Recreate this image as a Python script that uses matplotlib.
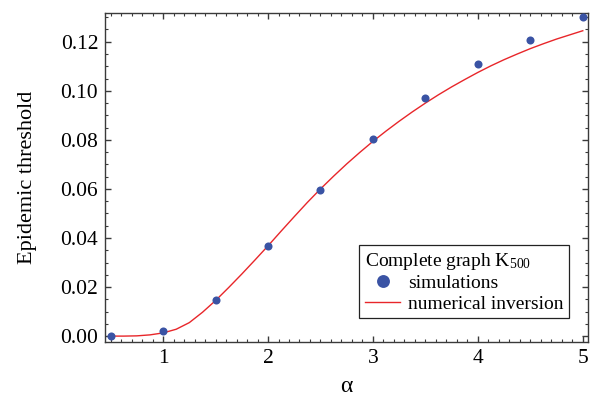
import matplotlib
matplotlib.use('Agg')

import matplotlib.pyplot as plt
from matplotlib.ticker import MultipleLocator

# simulation points
alpha_sim = [0.5, 1.0, 1.5, 2.0, 2.5, 3.0, 3.5, 4.0, 4.5, 5.0]
thr_sim = [0.0000, 0.0020, 0.0148, 0.0368, 0.0597, 0.0802, 0.0971, 0.1109, 0.1206, 0.1300]

# numerical inversion curve
alpha_num = [0.5, 0.625, 0.75, 0.875, 1.0, 1.125, 1.25, 1.375, 1.5, 1.625, 1.75, 1.875,
             2.0, 2.125, 2.25, 2.375, 2.5, 2.625, 2.75, 2.875, 3.0, 3.125, 3.25, 3.375,
             3.5, 3.625, 3.75, 3.875, 4.0, 4.125, 4.25, 4.375, 4.5, 4.625, 4.75, 4.875, 5.0]
thr_num = [0.0000, 0.0000, 0.0001, 0.0005, 0.0013, 0.0028, 0.0055, 0.0097, 0.0145, 0.0198,
           0.0253, 0.0310, 0.0368, 0.0428, 0.0487, 0.0545, 0.0600, 0.0652, 0.0702, 0.0749,
           0.0794, 0.0836, 0.0876, 0.0914, 0.0950, 0.0984, 0.1016, 0.1046, 0.1075, 0.1102,
           0.1127, 0.1150, 0.1172, 0.1192, 0.1211, 0.1228, 0.1245]

plt.rcParams['font.family'] = ['Liberation Serif', 'DejaVu Serif']
plt.rcParams['mathtext.fontset'] = 'custom'
plt.rcParams['mathtext.rm'] = 'Liberation Serif'
plt.rcParams['mathtext.it'] = 'Liberation Serif:italic'

fig = plt.figure(figsize=(5.97, 4.03), dpi=100)
ax = fig.add_axes([0.176, 0.152, 0.809, 0.815])

ax.plot(alpha_num, thr_num, color='#e8262a', lw=1.0, label='numerical inversion', zorder=2)
ax.plot(alpha_sim, thr_sim, 'o', color='#3a53a4', ms=5.8, mec='none',
        label='simulations', zorder=3, clip_on=False)

ax.set_xlim(0.447, 5.05)
ax.set_ylim(-0.0023, 0.1316)

ax.xaxis.set_major_locator(MultipleLocator(1))
ax.xaxis.set_minor_locator(MultipleLocator(0.1))
ax.yaxis.set_major_locator(MultipleLocator(0.02))
ax.yaxis.set_minor_locator(MultipleLocator(0.005))
ax.yaxis.set_major_formatter(plt.FuncFormatter(lambda v, p: f'{v:.2f}'))

spine_col = '#3a3a3a'
for s in ax.spines.values():
    s.set_color(spine_col)
    s.set_linewidth(1.0)
ax.tick_params(which='both', direction='in', top=True, right=True, color=spine_col,
               labelsize=15.5, pad=5)
ax.tick_params(which='major', length=4.3, width=1.0)
ax.tick_params(which='minor', length=2.3, width=0.8)

ax.set_xlabel('α', fontsize=17, labelpad=6)
ax.set_ylabel('Epidemic threshold', fontsize=16, labelpad=17)

h, l = ax.get_legend_handles_labels()
leg = ax.legend(h[::-1], l[::-1], title='Complete graph K$_{500}$', loc='lower right',
                bbox_to_anchor=(0.961, 0.071), borderaxespad=0, fontsize=14,
                title_fontsize=14, fancybox=False, edgecolor='#222222',
                framealpha=1, markerscale=1.6, handlelength=1.8, handletextpad=0.4,
                borderpad=0.3, labelspacing=0.15)
leg.get_frame().set_linewidth(0.9)
leg._legend_box.align = 'left'

fig.savefig('out.png', dpi=100)
